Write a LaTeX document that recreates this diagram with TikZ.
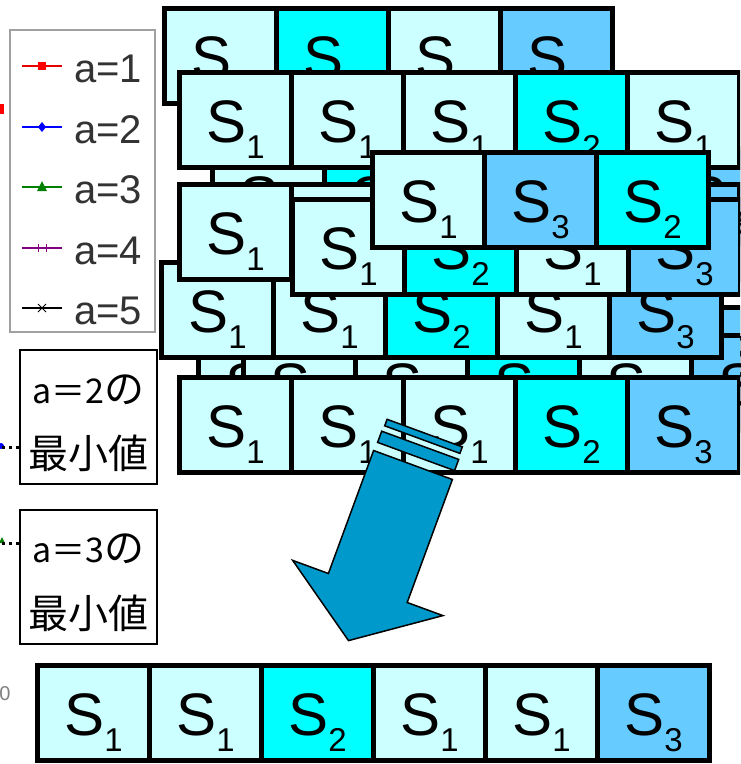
\documentclass[tikz,border=0pt]{standalone}
\usepackage{fontspec}
\setmainfont{Liberation Sans}
\newfontfamily\jpfont{Noto Sans CJK JP}
\definecolor{s1}{HTML}{CCFFFF}
\definecolor{s2}{HTML}{00FFFF}
\definecolor{s3}{HTML}{66CCFF}
\definecolor{arrowblue}{HTML}{0099CC}
\definecolor{legendgray}{HTML}{A0A0A0}
\definecolor{legendtext}{HTML}{333333}
\tikzset{
  slabel/.style={anchor=base, inner sep=0pt, font=\fontsize{60}{60}\selectfont},
  legendtxt/.style={anchor=base west, inner sep=0pt, text=legendtext, font=\fontsize{40}{40}\selectfont},
  callbox/.style={draw=black, line width=1.6pt, fill=white, minimum width=137pt, minimum height=134pt, inner sep=0pt},
  jtext/.style={anchor=base, inner sep=0pt, font=\jpfont\fontsize{40}{40}\selectfont},
  dotline/.style={line width=3pt, dash pattern=on 3pt off 4pt, black},
  bigarrow/.style={fill=arrowblue, draw=black, line width=1.5pt, line join=miter},
}
\newcommand\subnum[1]{\raisebox{-16pt}{\fontsize{33}{33}\selectfont #1}}
% name, x0, y0, number of cells, list of subscripts
\newcommand\cellrow[5]{%
  \fill[black] (#2,#3) rectangle ({#2+#4*112+5},{#3+100});
  \foreach \k [count=\i from 0] in {#5} {
    \fill[s\k] ({#2+5+\i*112},{#3+5}) rectangle ({#2+112+\i*112},{#3+95});
    \node[slabel] (#1-\i) at ({#2+5+\i*112+53.5},{#3+72}) {S\subnum{\k}};
  }%
}
\begin{document}
\begin{tikzpicture}[x=1pt, y=-1pt]
\useasboundingbox (0,0) rectangle (740,764);
\clip (0,0) rectangle (740,764);
\fill[white] (0,0) rectangle (740,764);

% ---- stacked sequences (back to front)
\cellrow{xone}{210}{146}{5}{1,2,1,1,3}
\cellrow{ra}{162}{6}{4}{1,2,1,3}
\cellrow{rb}{177}{70}{5}{1,1,1,2,1}
\cellrow{xthree}{250}{305}{5}{1,1,2,1,3}
\cellrow{xtwoa}{196}{333}{1}{1}
\cellrow{xtwob}{241}{333}{5}{1,1,2,1,3}
\cellrow{rf}{159}{260}{5}{1,1,2,1,3}
\cellrow{rd}{177}{182}{5}{1,1,2,1,3}
\cellrow{re}{290}{197}{4}{1,2,1,3}
\cellrow{rc}{370}{150}{3}{1,3,2}
\cellrow{rh}{177}{375}{5}{1,1,1,2,3}
\cellrow{rg}{35}{663}{6}{1,1,2,1,1,3}

% ---- striped block arrow
\path[bigarrow] (387.1,419.3) -- (462.3,446.9) -- (459.9,453.4) -- (384.7,425.8) -- cycle;
\path[bigarrow] (381.7,431.2) -- (458.7,459.4) -- (454.6,470.6) -- (377.6,442.4) -- cycle;
\path[bigarrow] (373.6,450.5) -- (452.4,479.5) -- (407.2,602.5) -- (442.9,615.6)
  -- (348.5,640.6) -- (292.7,560.4) -- (328.4,573.5) -- cycle;

% ---- legend
\draw[legendgray, line width=1.5pt, fill=white] (10,30) rectangle (155,332);
\coordinate (l1a) at (22,66);  \coordinate (l1b) at (62,66);
\coordinate (l2a) at (22,127); \coordinate (l2b) at (62,127);
\coordinate (l3a) at (22,187); \coordinate (l3b) at (62,187);
\coordinate (l4a) at (22,248); \coordinate (l4b) at (62,248);
\coordinate (l5a) at (22,308); \coordinate (l5b) at (62,308);
\draw[red!90!black, line width=2pt] (l1a) -- (l1b);
\fill[red] (38,62) rectangle (46,70);
\draw[blue, line width=2pt] (l2a) -- (l2b);
\fill[blue] (42,122) -- (46,127) -- (42,132) -- (38,127) -- cycle;
\draw[green!50!black, line width=2pt] (l3a) -- (l3b);
\fill[green!50!black] (42,181) -- (47,191) -- (37,191) -- cycle;
\draw[violet, line width=1.5pt] (l4a) -- (l4b);
\draw[violet, line width=1pt] (38,244) -- (38,252) (46,244) -- (46,252);
\draw[black, line width=2pt] (l5a) -- (l5b);
\draw[black, line width=1pt] (38,304) -- (46,312) (46,304) -- (38,312);
\node[legendtxt] (lt1) at (74,82) {a=1};
\node[legendtxt] (lt2) at (74,143) {a=2};
\node[legendtxt] (lt3) at (74,203) {a=3};
\node[legendtxt] (lt4) at (74,264) {a=4};
\node[legendtxt] (lt5) at (74,324) {a=5};

% ---- remnants of the chart at the left edge
\fill[red] (0,104) rectangle (4,114);
\fill[blue] (1,446) circle (3);
\fill[green!50!black] (2,537) -- (5,543) -- (-1,543) -- cycle;
\node[anchor=base, inner sep=0pt, text=gray, font=\fontsize{20}{20}\selectfont] (zero) at (5,700) {0};

% ---- call-outs
\node[callbox] (cb1) at (88.5,417) {};
\node[jtext] (cb1a) at (88.5,403) {{\fontsize{34}{34}\selectfont a＝2}の};
\node[jtext] (cb1b) at (88.5,468) {最小値};
\node[callbox] (cb2) at (88.5,577) {};
\node[jtext] (cb2a) at (88.5,562) {{\fontsize{34}{34}\selectfont a＝3}の};
\node[jtext] (cb2b) at (88.5,628) {最小値};
\coordinate (d1) at (2,447);
\coordinate (d2) at (2,543);
\draw[dotline] (d1) -- (cb1.west |- d1);
\draw[dotline] (d2) -- (cb2.west |- d2);
\end{tikzpicture}
\end{document}
